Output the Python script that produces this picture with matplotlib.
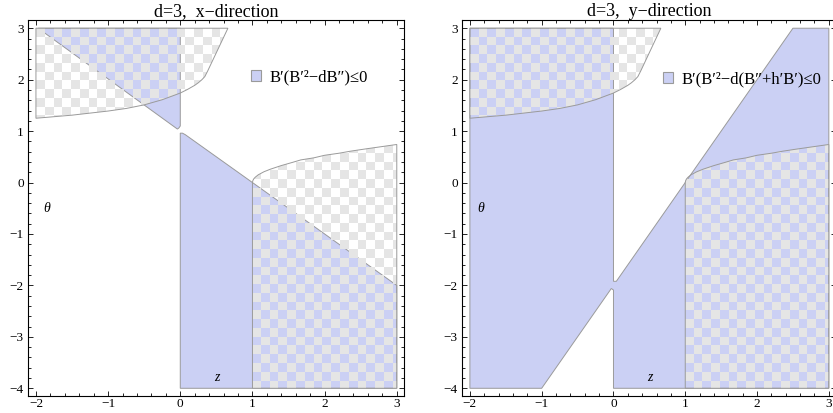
"""
Two region plots in the (z, theta) plane, d=3, x- and y-direction.
"""

import numpy as np
import matplotlib.pyplot as plt
from matplotlib.patches import Polygon, Patch
from matplotlib.ticker import MultipleLocator
from matplotlib.colors import to_rgba

plt.rcParams['font.family'] = ['Liberation Serif', 'DejaVu Serif']

# ---- data (boundaries of the regions) ----
# x-direction, blue region B'(B'^2-dB'')<=0, two pieces
x_blue_up_z = [-1.97, 0.0, 0.0, -0.02, -0.04]
x_blue_up_t = [3.0, 3.0, 1.10, 1.06, 1.04]
x_blue_lo_z = [0.0, 0.0, 0.03, 0.07, 3.0, 3.0]
x_blue_lo_t = [-4.0, 0.96, 0.96, 0.93, -2.0, -4.0]

# y-direction, blue region (one piece, pinched near z=0, theta=-2)
y_blue_z = [-2.0, -1.0, -0.03, 0.0, 0.0, 3.0, 3.0, 2.5, 0.04, 0.0, 0.0, -2.0]
y_blue_t = [-4.0, -4.0, -2.06, -2.09, -4.0, -4.0, 3.0, 3.0, -1.92, -1.92, 3.0, 3.0]

# checkered regions (same in both panels)
chk_up_z = [-2.0, 0.66, 0.38, 0.34, 0.30, 0.25, 0.2, 0.1, 0.0, -0.25, -0.5,
            -0.75, -1.0, -1.25, -1.5, -1.75, -2.0]
chk_up_t = [3.0, 3.0, 2.17, 2.06, 2.0, 1.94, 1.89, 1.81, 1.74, 1.61, 1.51,
            1.44, 1.39, 1.35, 1.31, 1.28, 1.25]
chk_lo_z = [1.0, 1.0, 1.005, 1.01, 1.02, 1.04, 1.08, 1.12, 1.16, 1.25, 1.4,
            1.55, 1.67, 1.85, 2.0, 2.2, 2.36, 2.55, 2.7, 2.85, 3.0, 3.0]
chk_lo_t = [-4.0, 0.0, 0.035, 0.05, 0.075, 0.105, 0.15, 0.18, 0.21, 0.26, 0.33,
            0.39, 0.44, 0.48, 0.53, 0.57, 0.61, 0.65, 0.68, 0.71, 0.74, -4.0]

x_ticks = [-2, -1, 0, 1, 2, 3]
y_ticks = [-4, -3, -2, -1, 0, 1, 2, 3]

titles = ["d=3,  x\u2212direction", "d=3,  y\u2212direction"]
legend_labels = ["B\u2032(B\u2032\u00b2\u2212dB\u2033)\u22640",
                 "B\u2032(B\u2032\u00b2\u2212d(B\u2033+h\u2032B\u2032)\u22640"]

BLUE = '#cbd0f4'
GRAY = '#e5e5e5'
EDGE = '#9a9a9a'

# size of one checker square in data units
SQ_Z = 0.1215
SQ_T = 0.170


def region(ax, z, t, zorder=1):
    """ Filled blue region with a grey outline. """
    p = Polygon(np.column_stack([z, t]), closed=True, facecolor=BLUE,
                edgecolor=EDGE, lw=0.7, zorder=zorder)
    ax.add_patch(p)
    return p


def checker(ax, z, t, shift):
    """ Grey / transparent checkerboard clipped to the region (z, t). """
    z0, z1 = min(z), max(z)
    t0, t1 = min(t), max(t)
    ncol = int(np.ceil((z1 - z0) / SQ_Z)) + 1
    nrow = int(np.ceil((t1 - t0) / SQ_T)) + 1
    i, j = np.indices((nrow, ncol))
    rgba = np.zeros((nrow, ncol, 4))
    rgba[(i + j + shift) % 2 == 1] = to_rgba(GRAY)
    im = ax.imshow(rgba, extent=(z0, z0 + ncol * SQ_Z, t1 - nrow * SQ_T, t1),
                   origin='upper', interpolation='nearest', aspect='auto',
                   zorder=2)
    clip = Polygon(np.column_stack([z, t]), closed=True, transform=ax.transData,
                   facecolor='none', edgecolor=EDGE, lw=0.7, zorder=3)
    ax.add_patch(clip)
    im.set_clip_path(clip)


def style(ax, title, label, anchor):
    ax.set_xlim(-2.11, 3.10)
    ax.set_ylim(-4.15, 3.16)
    ax.set_xticks(x_ticks)
    ax.set_yticks(y_ticks)
    ax.xaxis.set_minor_locator(MultipleLocator(0.2))
    ax.yaxis.set_minor_locator(MultipleLocator(0.2))
    ax.tick_params(which='both', direction='in', top=True, right=True,
                   width=0.6, labelsize=9.5)
    ax.tick_params(which='major', length=3.5)
    ax.tick_params(which='minor', length=2)
    ax.tick_params(axis='x', pad=1.5)
    ax.tick_params(axis='y', pad=3)
    for s in ax.spines.values():
        s.set_linewidth(0.8)
    ax.set_title(title, fontsize=13, pad=2)
    ax.text(-1.85, -0.5, "\u03b8", style='italic', fontsize=10,
            ha='center', va='center')
    ax.text(0.5, -3.8, "z", style='italic', fontsize=10,
            ha='center', va='center')
    h = Patch(facecolor=BLUE, edgecolor=EDGE, lw=0.8, label=label)
    ax.legend(handles=[h], loc='center left', bbox_to_anchor=anchor,
              frameon=False, borderpad=0, borderaxespad=0, handlelength=0.6,
              handleheight=0.6, handletextpad=0.5, fontsize=12)


fig = plt.figure(figsize=(8.33, 4.13), dpi=100)
W, H = 833, 413
ax1 = fig.add_axes([28 / W, 1 - 396 / H, 376 / W, 376 / H])
ax2 = fig.add_axes([462 / W, 1 - 396 / H, 374 / W, 376 / H])

# x-direction
region(ax1, x_blue_up_z, x_blue_up_t)
region(ax1, x_blue_lo_z, x_blue_lo_t)
checker(ax1, chk_up_z, chk_up_t, shift=1)
checker(ax1, chk_lo_z, chk_lo_t, shift=0)
style(ax1, titles[0], legend_labels[0], (0.593, 0.847))

# y-direction
region(ax2, y_blue_z, y_blue_t)
checker(ax2, chk_up_z, chk_up_t, shift=0)
checker(ax2, chk_lo_z, chk_lo_t, shift=1)
style(ax2, titles[1], legend_labels[1], (0.537, 0.842))

fig.savefig("out.png", dpi=100)
